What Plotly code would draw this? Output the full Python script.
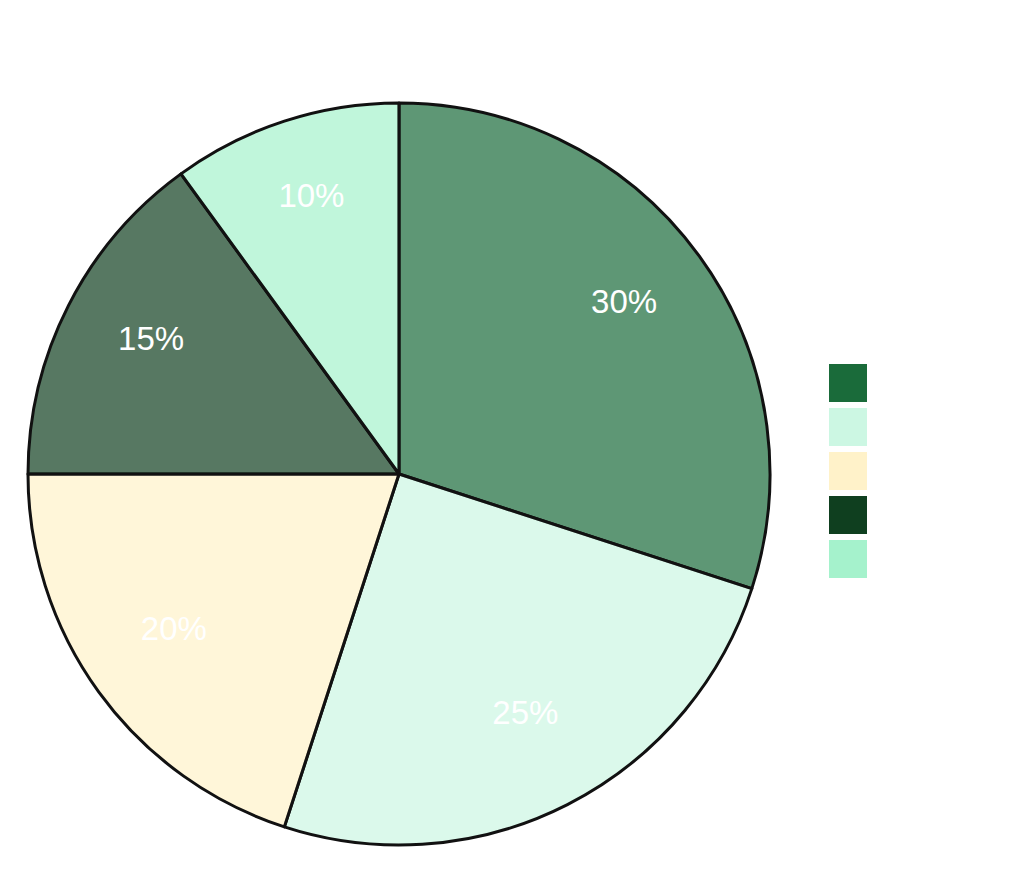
import plotly.graph_objects as go

# Slice data (clockwise from 12 o'clock)
labels = ["Category A", "Category B", "Category C", "Category D", "Category E"]
values = [30, 25, 20, 15, 10]
colors = ["#1a6b3a", "#ccf7e3", "#fff2c9", "#0f3f1f", "#a5f2cc"]


def faded(hex_color, alpha=0.7):
    h = hex_color.lstrip("#")
    r, g, b = (int(h[i:i + 2], 16) for i in (0, 2, 4))
    return f"rgba({r},{g},{b},{alpha})"


# page is shifted by the 8px body margin, so everything is placed 8px up/left
OFF = 8
W, H = 1024, 874
pie_domain = dict(
    x=[(28 - OFF) / W, (770 - OFF) / W],
    y=[1 - (845 - OFF) / H, 1 - (103 - OFF) / H],
)
# label ring sits a little higher (text is centred on cap height in the reference)
LIFT = 9
label_domain = dict(
    x=pie_domain["x"],
    y=[pie_domain["y"][0] + LIFT / H, pie_domain["y"][1] + LIFT / H],
)

fig = go.Figure()

# filled slices
fig.add_trace(go.Pie(
    labels=labels,
    values=values,
    sort=False,
    direction="clockwise",
    rotation=0,
    marker=dict(colors=[faded(c) for c in colors],
                line=dict(color="#111111", width=3)),
    textinfo="none",
    domain=pie_domain,
    showlegend=False,
))

# transparent ring on top that only carries the percent labels
fig.add_trace(go.Pie(
    labels=labels,
    values=values,
    sort=False,
    direction="clockwise",
    rotation=0,
    hole=0.5,
    marker=dict(colors=["rgba(0,0,0,0)"] * len(values), line=dict(width=0)),
    textinfo="percent",
    textposition="inside",
    insidetextorientation="horizontal",
    textfont=dict(color="white", size=33, family="Liberation Sans, Arial, sans-serif"),
    hoverinfo="skip",
    domain=label_domain,
    showlegend=False,
))

# legend swatches (labels are white on white in the reference)
for i, c in enumerate(colors):
    top = 364 - OFF + i * 44
    fig.add_shape(
        type="rect", xref="paper", yref="paper",
        x0=(829 - OFF) / W, x1=(867 - OFF) / W,
        y0=1 - (top + 38) / H, y1=1 - top / H,
        fillcolor=c, line=dict(width=0),
    )
    fig.add_annotation(
        x=(875 - OFF) / W, y=1 - (top + 19) / H, xref="paper", yref="paper",
        text=labels[i], showarrow=False, xanchor="left",
        font=dict(color="white", size=16),
    )

fig.update_layout(
    width=W, height=H,
    margin=dict(l=0, r=0, t=0, b=0),
    paper_bgcolor="white",
    plot_bgcolor="white",
)

fig.write_html("out.html")
